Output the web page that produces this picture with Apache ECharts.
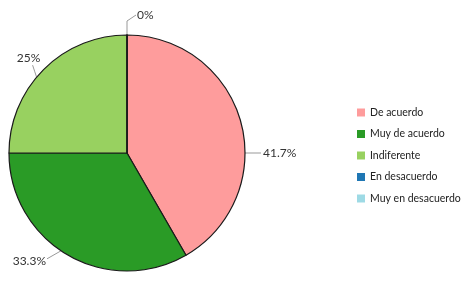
<!DOCTYPE html>
<html>
<head>
<meta charset="utf-8">
<script src="https://cdn.jsdelivr.net/npm/echarts@6/dist/echarts.min.js"></script>
<style>
  html, body { margin: 0; padding: 0; background: #fff; }
  #chart { width: 472px; height: 283px; }
</style>
</head>
<body>
<div id="chart"></div>
<script>
    // respuestas (conteo por categoria)
    var categories = ['De acuerdo', 'Muy de acuerdo', 'Indiferente', 'En desacuerdo', 'Muy en desacuerdo'];
    var counts = [5, 4, 3, 0, 0];
    var colors = ['#fe9c9c', '#2a9b26', '#98d160', '#1f77b4', '#9edae5'];

    var total = 0;
    for (var i = 0; i < counts.length; i++) total += counts[i];

    var pieData = [];
    for (var i = 0; i < categories.length; i++) {
        pieData.push({
            name: categories[i],
            value: counts[i],
            itemStyle: { color: colors[i] },
            // solo una etiqueta "0%" como en el original
            label: { show: i !== 4 },
            labelLine: { show: i !== 4 }
        });
    }

    var cx = 127, cy = 153, r = 118;
    // donde se colocan las etiquetas (igual que el grafico original)
    var labelSpots = [
        { ang: 0, pts: [[0, 0], [8, 0], [16, 0]], align: 'left', dx: 18, dy: 0 },
        { ang: -124, pts: [[0, 0], [-7, 4], [-14, 8]], align: 'right', dx: -15, dy: 10 },
        { ang: 140, pts: [[0, 0], [-2, -6], [-4, -12]], align: 'center', dx: -8, dy: -19 },
        { ang: 90, pts: [[0, 0], [0, -14], [9, -20]], align: 'left', dx: 10, dy: -20 },
        { ang: 90, pts: [[0, 0], [0, -14], [9, -20]], align: 'left', dx: 10, dy: -20 }
    ];

    var chart = echarts.init(document.getElementById('chart'), null, { renderer: 'canvas' });
    chart.setOption({
        animation: false,
        textStyle: { fontFamily: 'Lato' },
        legend: {
            orient: 'vertical',
            left: 352,
            top: 102,
            itemWidth: 8,
            itemHeight: 8,
            itemGap: 10.5,
            icon: 'rect',
            itemStyle: { borderWidth: 0 },
            textStyle: { fontSize: 10.5, color: '#222', fontFamily: 'Lato' },
            data: categories
        },
        series: [{
            type: 'pie',
            center: [cx, cy],
            radius: r,
            startAngle: 90,
            clockwise: true,
            avoidLabelOverlap: false,
            stillShowZeroSum: true,
            itemStyle: { borderColor: '#1a1a1a', borderWidth: 1.2 },
            label: {
                position: 'outside',
                fontSize: 12,
                color: '#333',
                fontFamily: 'Lato',
                formatter: function (p) {
                    var pct = total ? p.value / total * 100 : 0;
                    return (Math.round(pct * 10) / 10) + '%';
                }
            },
            labelLine: {
                length: 14,
                length2: 8,
                lineStyle: { color: '#999', width: 1 }
            },
            labelLayout: function (params) {
                var s = labelSpots[params.dataIndex];
                var a = s.ang * Math.PI / 180;
                var ax = cx + r * Math.cos(a), ay = cy - r * Math.sin(a);
                var pts = [];
                for (var k = 0; k < s.pts.length; k++) pts.push([ax + s.pts[k][0], ay + s.pts[k][1]]);
                return {
                    x: ax + s.dx,
                    y: ay + s.dy,
                    align: s.align,
                    verticalAlign: 'middle',
                    labelLinePoints: pts
                };
            },
            emphasis: { disabled: true },
            data: pieData
        }]
    });
</script>
</body>
</html>
